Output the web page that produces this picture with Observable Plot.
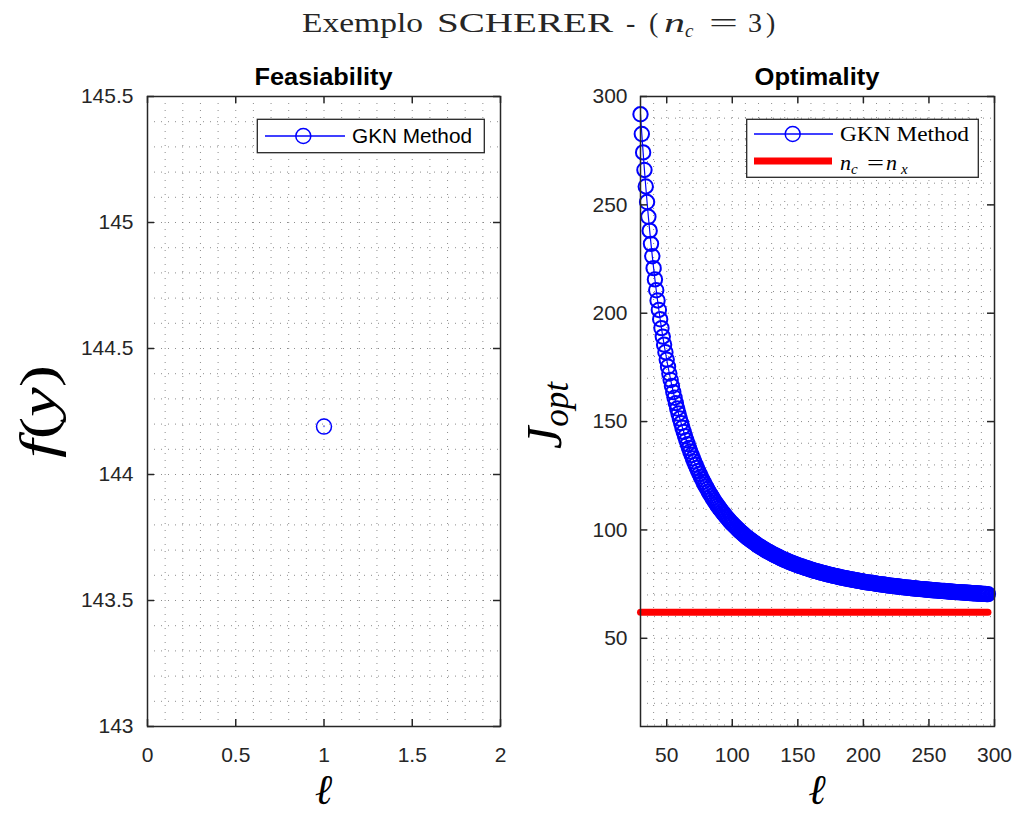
<!DOCTYPE html>
<html>
<head>
<meta charset="utf-8">
<script src="https://cdn.jsdelivr.net/npm/d3@7"></script>
<script src="https://cdn.jsdelivr.net/npm/@observablehq/plot@0.6"></script>
<style>
  html, body { margin: 0; padding: 0; background: #fff; }
  #wrap { position: relative; width: 1016px; height: 814px; background: #fff; overflow: hidden; }
  #wrap > svg, #wrap > div { position: absolute; top: 0; }
</style>
</head>
<body>
<div id="wrap"></div>
<script>
// ---------------- data ----------------
const feasEll = [1];
const feasF = [144.19];

const optEll = d3.range(30, 296); // ℓ = 30 … 295
const optJ = [
  291.8, 282.7, 274.2, 266.1, 258.5, 251.3, 244.5, 238.1, 232.0, 226.3,
  220.8, 215.6, 210.6, 205.9, 201.5, 197.2, 193.1, 189.2, 185.5, 182.0,
  178.6, 175.3, 172.2, 169.2, 166.4, 163.6, 161.0, 158.5, 156.0, 153.7,
  151.4, 149.3, 147.2, 145.2, 143.2, 141.4, 139.6, 137.8, 136.2, 134.6,
  133.0, 131.5, 130.0, 128.6, 127.2, 125.9, 124.6, 123.4, 122.2, 121.0,
  119.9, 118.8, 117.7, 116.7, 115.7, 114.7, 113.7, 112.8, 111.9, 111.1,
  110.2, 109.4, 108.6, 107.8, 107.1, 106.3, 105.6, 104.9, 104.2, 103.5,
  102.9, 102.3, 101.7, 101.1, 100.5, 99.9, 99.3, 98.8, 98.3, 97.7,
  97.2, 96.7, 96.2, 95.8, 95.3, 94.9, 94.4, 94.0, 93.6, 93.1,
  92.7, 92.3, 92.0, 91.6, 91.2, 90.8, 90.5, 90.1, 89.8, 89.5,
  89.1, 88.8, 88.5, 88.2, 87.9, 87.6, 87.3, 87.0, 86.7, 86.4,
  86.2, 85.9, 85.7, 85.4, 85.1, 84.9, 84.7, 84.4, 84.2, 84.0,
  83.7, 83.5, 83.3, 83.1, 82.9, 82.7, 82.5, 82.3, 82.1, 81.9,
  81.7, 81.5, 81.3, 81.1, 81.0, 80.8, 80.6, 80.5, 80.3, 80.1,
  80.0, 79.8, 79.7, 79.5, 79.4, 79.2, 79.1, 78.9, 78.8, 78.6,
  78.5, 78.4, 78.2, 78.1, 78.0, 77.8, 77.7, 77.6, 77.5, 77.4,
  77.2, 77.1, 77.0, 76.9, 76.8, 76.7, 76.6, 76.5, 76.3, 76.2,
  76.1, 76.0, 75.9, 75.8, 75.7, 75.6, 75.6, 75.5, 75.4, 75.3,
  75.2, 75.1, 75.0, 74.9, 74.8, 74.8, 74.7, 74.6, 74.5, 74.4,
  74.3, 74.3, 74.2, 74.1, 74.0, 74.0, 73.9, 73.8, 73.8, 73.7,
  73.6, 73.5, 73.5, 73.4, 73.3, 73.3, 73.2, 73.1, 73.1, 73.0,
  73.0, 72.9, 72.8, 72.8, 72.7, 72.7, 72.6, 72.5, 72.5, 72.4,
  72.4, 72.3, 72.3, 72.2, 72.2, 72.1, 72.1, 72.0, 72.0, 71.9,
  71.9, 71.8, 71.8, 71.7, 71.7, 71.6, 71.6, 71.5, 71.5, 71.4,
  71.4, 71.3, 71.3, 71.3, 71.2, 71.2, 71.1, 71.1, 71.0, 71.0,
  71.0, 70.9, 70.9, 70.8, 70.8, 70.8, 70.7, 70.7, 70.7, 70.6,
  70.6, 70.5, 70.5, 70.5, 70.4, 70.4
];

const refEll = [30, 295];   // n_c = n_x reference line
const refJ = [62, 62];

const seriesNames = ["GKN Method", "n_c = n_x"];
const subplotTitles = ["Feasiability", "Optimality"];

const feasXTicks = [0, 0.5, 1, 1.5, 2];
const feasYTicks = [143, 143.5, 144, 144.5, 145, 145.5];
const optXTicks = [50, 100, 150, 200, 250, 300];
const optYTicks = [50, 100, 150, 200, 250, 300];

// grid (minor) positions
const feasXGrid = d3.range(0, 21).map(i => i / 10);
const feasYGrid = d3.range(0, 26).map(i => 143 + i / 10);
const optXGrid = d3.range(3, 31).map(i => i * 10);
const optYGrid = d3.range(1, 31).map(i => i * 10);

// ---------------- styling ----------------
const AX = "#262626";
const BLUE = "#0000ff";
const GRID = { stroke: "#808080", strokeDasharray: "1,6", strokeWidth: 1, strokeOpacity: 0.9 };
const TOP = 96, BOTTOM = 726, H = 814;
const plotH = BOTTOM - TOP;

function panel({width, marginLeft, marginRight, xDomain, yDomain, xGrid, yGrid, xTicks, yTicks, yPad, marks}) {
  const plotW = width - marginLeft - marginRight;
  const fmt = d => `${d}`;
  return Plot.plot({
    width, height: H,
    marginLeft, marginRight, marginTop: TOP, marginBottom: H - BOTTOM,
    x: {domain: xDomain},
    y: {domain: yDomain},
    style: {background: "transparent", fontFamily: "'Liberation Sans', Arial, sans-serif", fontSize: "21px", color: AX, overflow: "visible"},
    marks: [
      Plot.ruleX(xGrid, {x: d => d, ...GRID}),
      Plot.ruleY(yGrid, {y: d => d, ...GRID}),
      ...marks,
      Plot.frame({stroke: AX, strokeWidth: 1.5}),
      Plot.tickX(xTicks, {x: d => d, insetTop: plotH - 7, stroke: AX, strokeWidth: 1.5}),
      Plot.tickX(xTicks, {x: d => d, insetBottom: plotH - 7, stroke: AX, strokeWidth: 1.5}),
      Plot.tickY(yTicks, {y: d => d, insetRight: plotW - 7, stroke: AX, strokeWidth: 1.5}),
      Plot.tickY(yTicks, {y: d => d, insetLeft: plotW - 7, stroke: AX, strokeWidth: 1.5}),
      Plot.axisX({ticks: xTicks, tickSize: 0, tickPadding: 21, tickFormat: fmt, label: null, fill: AX}),
      Plot.axisY({ticks: yTicks, tickSize: 0, tickPadding: yPad, tickFormat: fmt, label: null, fill: AX})
    ]
  });
}

const feasData = feasEll.map((l, i) => ({l, f: feasF[i]}));
const optData = optEll.map((l, i) => ({l, J: optJ[i]}));
const refData = refEll.map((l, i) => ({l, J: refJ[i]}));

const left = panel({
  width: 560, marginLeft: 147, marginRight: 60,
  xDomain: [0, 2], yDomain: [143, 145.5],
  xGrid: feasXGrid, yGrid: feasYGrid, xTicks: feasXTicks, yTicks: feasYTicks, yPad: 14,
  marks: [
    Plot.line(feasData, {x: "l", y: "f", stroke: BLUE, strokeWidth: 1.2}),
    Plot.dot(feasData, {x: "l", y: "f", r: 7.5, stroke: BLUE, strokeWidth: 1.5, fill: "none"})
  ]
});
left.style.left = "0px";

const right = panel({
  width: 456, marginLeft: 80, marginRight: 22,
  xDomain: [30, 300], yDomain: [9.3, 300],
  xGrid: optXGrid, yGrid: optYGrid, xTicks: optXTicks, yTicks: optYTicks, yPad: 13,
  marks: [
    Plot.line(optData, {x: "l", y: "J", stroke: BLUE, strokeWidth: 1.2}),
    Plot.dot(optData, {x: "l", y: "J", r: 7.2, stroke: BLUE, strokeWidth: 2, fill: "none"}),
    Plot.line(refData, {x: "l", y: "J", stroke: "#ff0000", strokeWidth: 7})
  ]
});
right.style.left = "560px";

const wrap = document.getElementById("wrap");
wrap.appendChild(left);
wrap.appendChild(right);

// ---------------- text overlay: titles, labels, legends ----------------
const SERIF = "'Liberation Serif', 'Times New Roman', serif";
const SANS = "'Liberation Sans', Arial, sans-serif";
const overlay = `
<svg width="1016" height="814" style="left:0;top:0;position:absolute;overflow:visible" xmlns="http://www.w3.org/2000/svg">
  <g font-family="${SERIF}" font-size="28" fill="#262626">
    <text x="302" y="32" textLength="121" lengthAdjust="spacingAndGlyphs">Exemplo</text>
    <text x="437" y="32" textLength="176" lengthAdjust="spacingAndGlyphs">SCHERER</text>
    <text x="626" y="32">-</text>
    <text x="649" y="32">(</text>
    <text x="664" y="32" font-style="italic" textLength="21" lengthAdjust="spacingAndGlyphs">n</text>
    <text x="685" y="37" font-style="italic" font-size="19">c</text>
    <text x="709" y="32" textLength="29" lengthAdjust="spacingAndGlyphs">=</text>
    <text x="748" y="32">3</text>
    <text x="766" y="32">)</text>
  </g>
  <g font-family="${SANS}" font-weight="bold" font-size="24" fill="#000" text-anchor="middle">
    <text x="323.5" y="85" textLength="138" lengthAdjust="spacingAndGlyphs">${subplotTitles[0]}</text>
    <text x="817" y="85" textLength="125" lengthAdjust="spacingAndGlyphs">${subplotTitles[1]}</text>
  </g>
  <g font-family="${SERIF}" fill="#000">
    <text transform="translate(54.5,411.5) rotate(-90)" text-anchor="middle" font-size="50" textLength="93" lengthAdjust="spacingAndGlyphs"><tspan font-style="italic">f</tspan>(<tspan font-style="italic">y</tspan>)</text>
    <text transform="translate(561,449) rotate(-90)" text-anchor="start" font-style="italic"><tspan font-size="50">J</tspan><tspan font-size="35" dy="7">opt</tspan></text>
  </g>
  <g font-family="${SERIF}" font-style="italic" font-size="42" fill="#000" text-anchor="middle">
    <text x="323.5" y="804">ℓ</text>
    <text x="817" y="804">ℓ</text>
  </g>
  <!-- left legend -->
  <rect x="257.3" y="119.3" width="227" height="33.4" fill="#fff" stroke="#262626" stroke-width="1.3"/>
  <line x1="265" x2="345" y1="136" y2="136" stroke="${BLUE}" stroke-width="1.4"/>
  <circle cx="303.3" cy="136" r="7.5" fill="none" stroke="${BLUE}" stroke-width="1.5"/>
  <text x="352" y="143.3" font-family="${SANS}" font-size="20.5" fill="#000" textLength="120" lengthAdjust="spacingAndGlyphs">${seriesNames[0]}</text>
  <!-- right legend -->
  <rect x="746.7" y="119.3" width="231.6" height="58" fill="#fff" stroke="#262626" stroke-width="1.3"/>
  <line x1="754" x2="833" y1="134" y2="134" stroke="${BLUE}" stroke-width="1.4"/>
  <circle cx="792.7" cy="134" r="7.5" fill="none" stroke="${BLUE}" stroke-width="1.5"/>
  <text x="840" y="141" font-family="${SERIF}" font-size="22" fill="#000" textLength="129" lengthAdjust="spacingAndGlyphs">${seriesNames[0]}</text>
  <line x1="754" x2="832" y1="161" y2="161" stroke="#ff0000" stroke-width="7"/>
  <g font-family="${SERIF}" fill="#000" font-style="italic">
    <text x="840" y="170" font-size="22">n</text>
    <text x="851" y="174" font-size="15">c</text>
    <text x="867" y="170" font-size="22" font-style="normal" textLength="17" lengthAdjust="spacingAndGlyphs">=</text>
    <text x="886" y="170" font-size="22">n</text>
    <text x="901" y="174" font-size="15">x</text>
  </g>
</svg>`;
wrap.insertAdjacentHTML("beforeend", overlay);
</script>
</body>
</html>
